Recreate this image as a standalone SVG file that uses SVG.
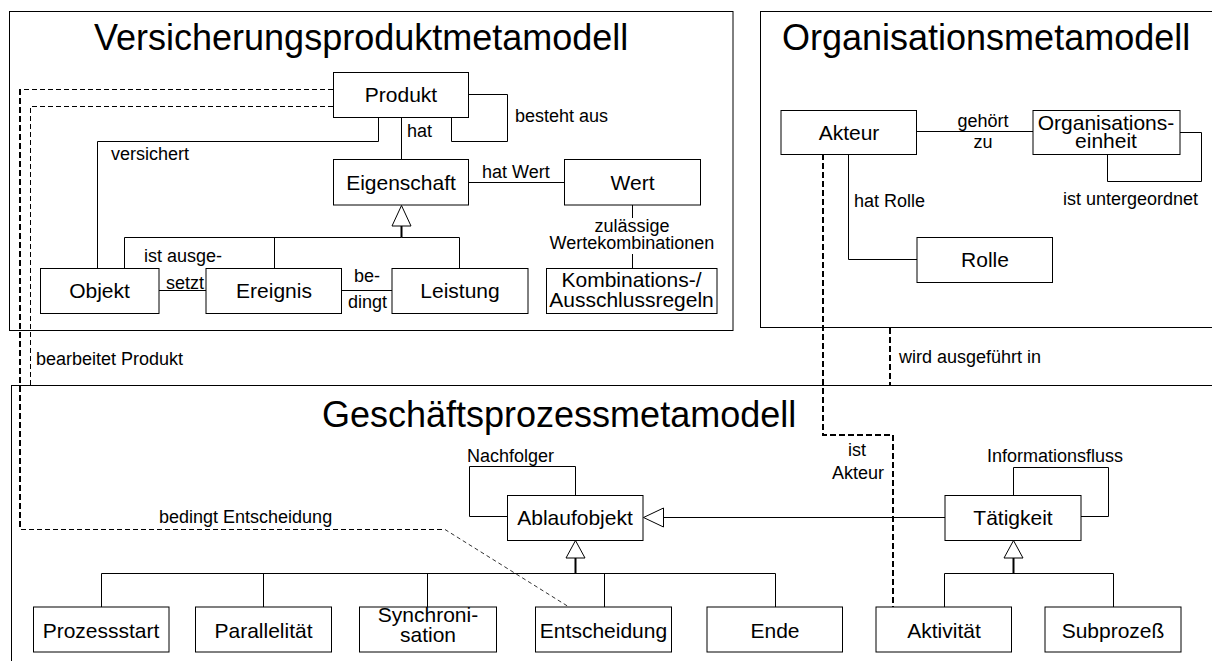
<svg xmlns="http://www.w3.org/2000/svg" width="1212" height="661" viewBox="0 0 1212 661">
  <style>
    text { font-family: "Liberation Sans", Arial, sans-serif; fill: #000; }
    .title { font-size: 36px; }
    .node rect { fill: #fff; stroke: #000; stroke-width: 1; }
    .node text { font-size: 21px; text-anchor: middle; }
    .frame { fill: none; stroke: #000; stroke-width: 1; }
    .lbl { font-size: 18px; }
    .mid { text-anchor: middle; }
    .conn path { fill: none; stroke: #000; stroke-width: 1; }
    .conn path.stem { stroke-width: 2; }
    .conn path.dash { stroke-dasharray: 5 3; }
    .conn path.dash2 { stroke-width: 2; stroke-dasharray: 6 3; }
    .conn path.dashthin { stroke: #333; stroke-dasharray: 4 3; }
    .conn polygon { fill: #fff; stroke: #000; stroke-width: 1; }
  </style>

  <!-- package frames -->
  <g id="pkg-versicherungsprodukt">
    <rect class="frame" x="9.5" y="11.5" width="723.5" height="319"/>
    <text class="title" x="94" y="50">Versicherungsproduktmetamodell</text>
  </g>
  <g id="pkg-organisation">
    <rect class="frame" x="760.5" y="11.5" width="470" height="316"/>
    <text class="title" x="782" y="50">Organisationsmetamodell</text>
  </g>
  <g id="pkg-geschaeftsprozess">
    <rect class="frame" x="11.5" y="385.5" width="1220" height="300"/>
    <text class="title" x="322" y="427">Geschäftsprozessmetamodell</text>
  </g>

  <!-- connectors -->
  <g id="connectors" class="conn">
    <!-- product model -->
    <path d="M401.5,117 V159"/>
    <path d="M468.5,94.5 H507.5 V141.5 H451.5 V117"/>
    <path d="M378.5,117 V141.5 H97.5 V268"/>
    <path d="M469,182.5 H564"/>
    <path d="M632.5,205 V218"/>
    <path d="M632.5,254 V268"/>
    <path d="M159,290.5 H206"/>
    <path d="M342,290.5 H392"/>
    <path class="stem" d="M401.5,226 V237.5"/>
    <path d="M124.5,268 V237.5 H401.5"/>
    <path d="M274.5,268 V237.5"/>
    <path d="M459.5,268 V237.5 H401.5"/>
    <polygon points="401.5,205.5 392,226 411,226"/>

    <!-- organisation model -->
    <path d="M917,131.5 H1033"/>
    <path d="M1180,132.5 H1201.5 V181.5 H1107.5 V154"/>
    <path d="M848.5,154 V259.5 H917"/>

    <!-- process model -->
    <path d="M507,516.5 H469.5 V466.5 H575.5 V495"/>
    <path d="M1013.5,495 V467.5 H1108.5 V516.5 H1081"/>
    <path d="M945,517.5 H663.5"/>
    <polygon points="643.5,517.5 663.5,508 663.5,527"/>
    <path class="stem" d="M575.5,558 V573.5"/>
    <path d="M101.5,607 V573.5 H575.5"/>
    <path d="M263.5,607 V573.5 H575.5"/>
    <path d="M427.5,607 V573.5 H575.5"/>
    <path d="M604.5,607 V573.5 H575.5"/>
    <path d="M775.5,607 V573.5 H575.5"/>
    <polygon points="575.5,540.5 566,558 585,558"/>
    <path class="stem" d="M1013.5,558 V573.5"/>
    <path d="M944.5,607 V573.5 H1113.5 V607"/>
    <polygon points="1013.5,540.5 1004,558 1023,558"/>

    <!-- cross-model relations -->
    <path class="dash" d="M333,89.5 H21"/>
    <path class="dash2" d="M20,89 V530"/>
    <path class="dash" d="M21,529.5 H445"/>
    <path class="dashthin" d="M445,529.5 L569,607"/>
    <path class="dash" d="M333,106.5 H30.5 V385"/>
    <path class="dash2" d="M823,154 V435 H893 V607"/>
    <path class="dash2" d="M890,328 V385"/>
  </g>

  <!-- connector labels -->
  <g id="labels" class="lbl">
    <text x="407" y="137">hat</text>
    <text x="515" y="122">besteht aus</text>
    <text x="111" y="160">versichert</text>
    <text x="482" y="178">hat Wert</text>
    <text class="mid" x="632" y="232">zulässige</text>
    <text class="mid" x="632" y="249">Wertekombinationen</text>
    <text x="144" y="262">ist ausge-</text>
    <text x="166" y="289">setzt</text>
    <text x="354" y="282">be-</text>
    <text x="348" y="308">dingt</text>
    <text x="36" y="365">bearbeitet Produkt</text>
    <text class="mid" x="983" y="127">gehört</text>
    <text class="mid" x="983" y="148">zu</text>
    <text x="1063" y="205">ist untergeordnet</text>
    <text x="854" y="207">hat Rolle</text>
    <text x="899" y="363">wird ausgeführt in</text>
    <text x="159" y="523">bedingt Entscheidung</text>
    <text x="467" y="462">Nachfolger</text>
    <text x="987" y="462">Informationsfluss</text>
    <text class="mid" x="857" y="456">ist</text>
    <text class="mid" x="858" y="479">Akteur</text>
  </g>

  <!-- product model nodes -->
  <g id="produkt" class="node"><rect x="333.5" y="72.5" width="135" height="45"/><text x="401" y="102">Produkt</text></g>
  <g id="eigenschaft" class="node"><rect x="333.5" y="159.5" width="135" height="45.5"/><text x="401" y="189.5">Eigenschaft</text></g>
  <g id="wert" class="node"><rect x="564.5" y="159.5" width="136" height="45.5"/><text x="632.5" y="189.5">Wert</text></g>
  <g id="objekt" class="node"><rect x="40.5" y="268.5" width="118.5" height="45"/><text x="99.5" y="298">Objekt</text></g>
  <g id="ereignis" class="node"><rect x="206" y="268.5" width="135.5" height="45"/><text x="274" y="298">Ereignis</text></g>
  <g id="leistung" class="node"><rect x="392" y="268.5" width="136" height="45"/><text x="460" y="298">Leistung</text></g>
  <g id="kombinationsregeln" class="node"><rect x="546.5" y="268.5" width="170.5" height="45"/><text x="631.5" y="287">Kombinations-/</text><text x="631.5" y="307">Ausschlussregeln</text></g>

  <!-- organisation model nodes -->
  <g id="akteur" class="node"><rect x="781" y="110.5" width="135.5" height="44"/><text x="849" y="139.5">Akteur</text></g>
  <g id="organisationseinheit" class="node"><rect x="1033" y="110.5" width="147" height="44"/><text x="1106" y="130">Organisations-</text><text x="1106" y="148">einheit</text></g>
  <g id="rolle" class="node"><rect x="917" y="237.5" width="135.5" height="45"/><text x="985" y="267">Rolle</text></g>

  <!-- process model nodes -->
  <g id="ablaufobjekt" class="node"><rect x="507.5" y="495.5" width="135.5" height="45"/><text x="575" y="525">Ablaufobjekt</text></g>
  <g id="taetigkeit" class="node"><rect x="945" y="495.5" width="136" height="45"/><text x="1013" y="525">Tätigkeit</text></g>
  <g id="prozessstart" class="node"><rect x="33.5" y="607" width="135.5" height="45"/><text x="101" y="637.5">Prozessstart</text></g>
  <g id="parallelitaet" class="node"><rect x="195.5" y="607" width="136" height="45"/><text x="263.5" y="637.5">Parallelität</text></g>
  <g id="synchronisation" class="node"><rect x="359.5" y="607" width="137" height="45"/><text x="428" y="622">Synchroni-</text><text x="428" y="642">sation</text></g>
  <g id="entscheidung" class="node"><rect x="535.5" y="607" width="136" height="45"/><text x="603.5" y="637.5">Entscheidung</text></g>
  <g id="ende" class="node"><rect x="707" y="607" width="135.5" height="45"/><text x="775" y="637.5">Ende</text></g>
  <g id="aktivitaet" class="node"><rect x="876" y="607" width="135.5" height="45"/><text x="944" y="637.5">Aktivität</text></g>
  <g id="subprozess" class="node"><rect x="1045" y="607" width="136" height="45"/><text x="1113" y="637.5">Subprozeß</text></g>
</svg>
